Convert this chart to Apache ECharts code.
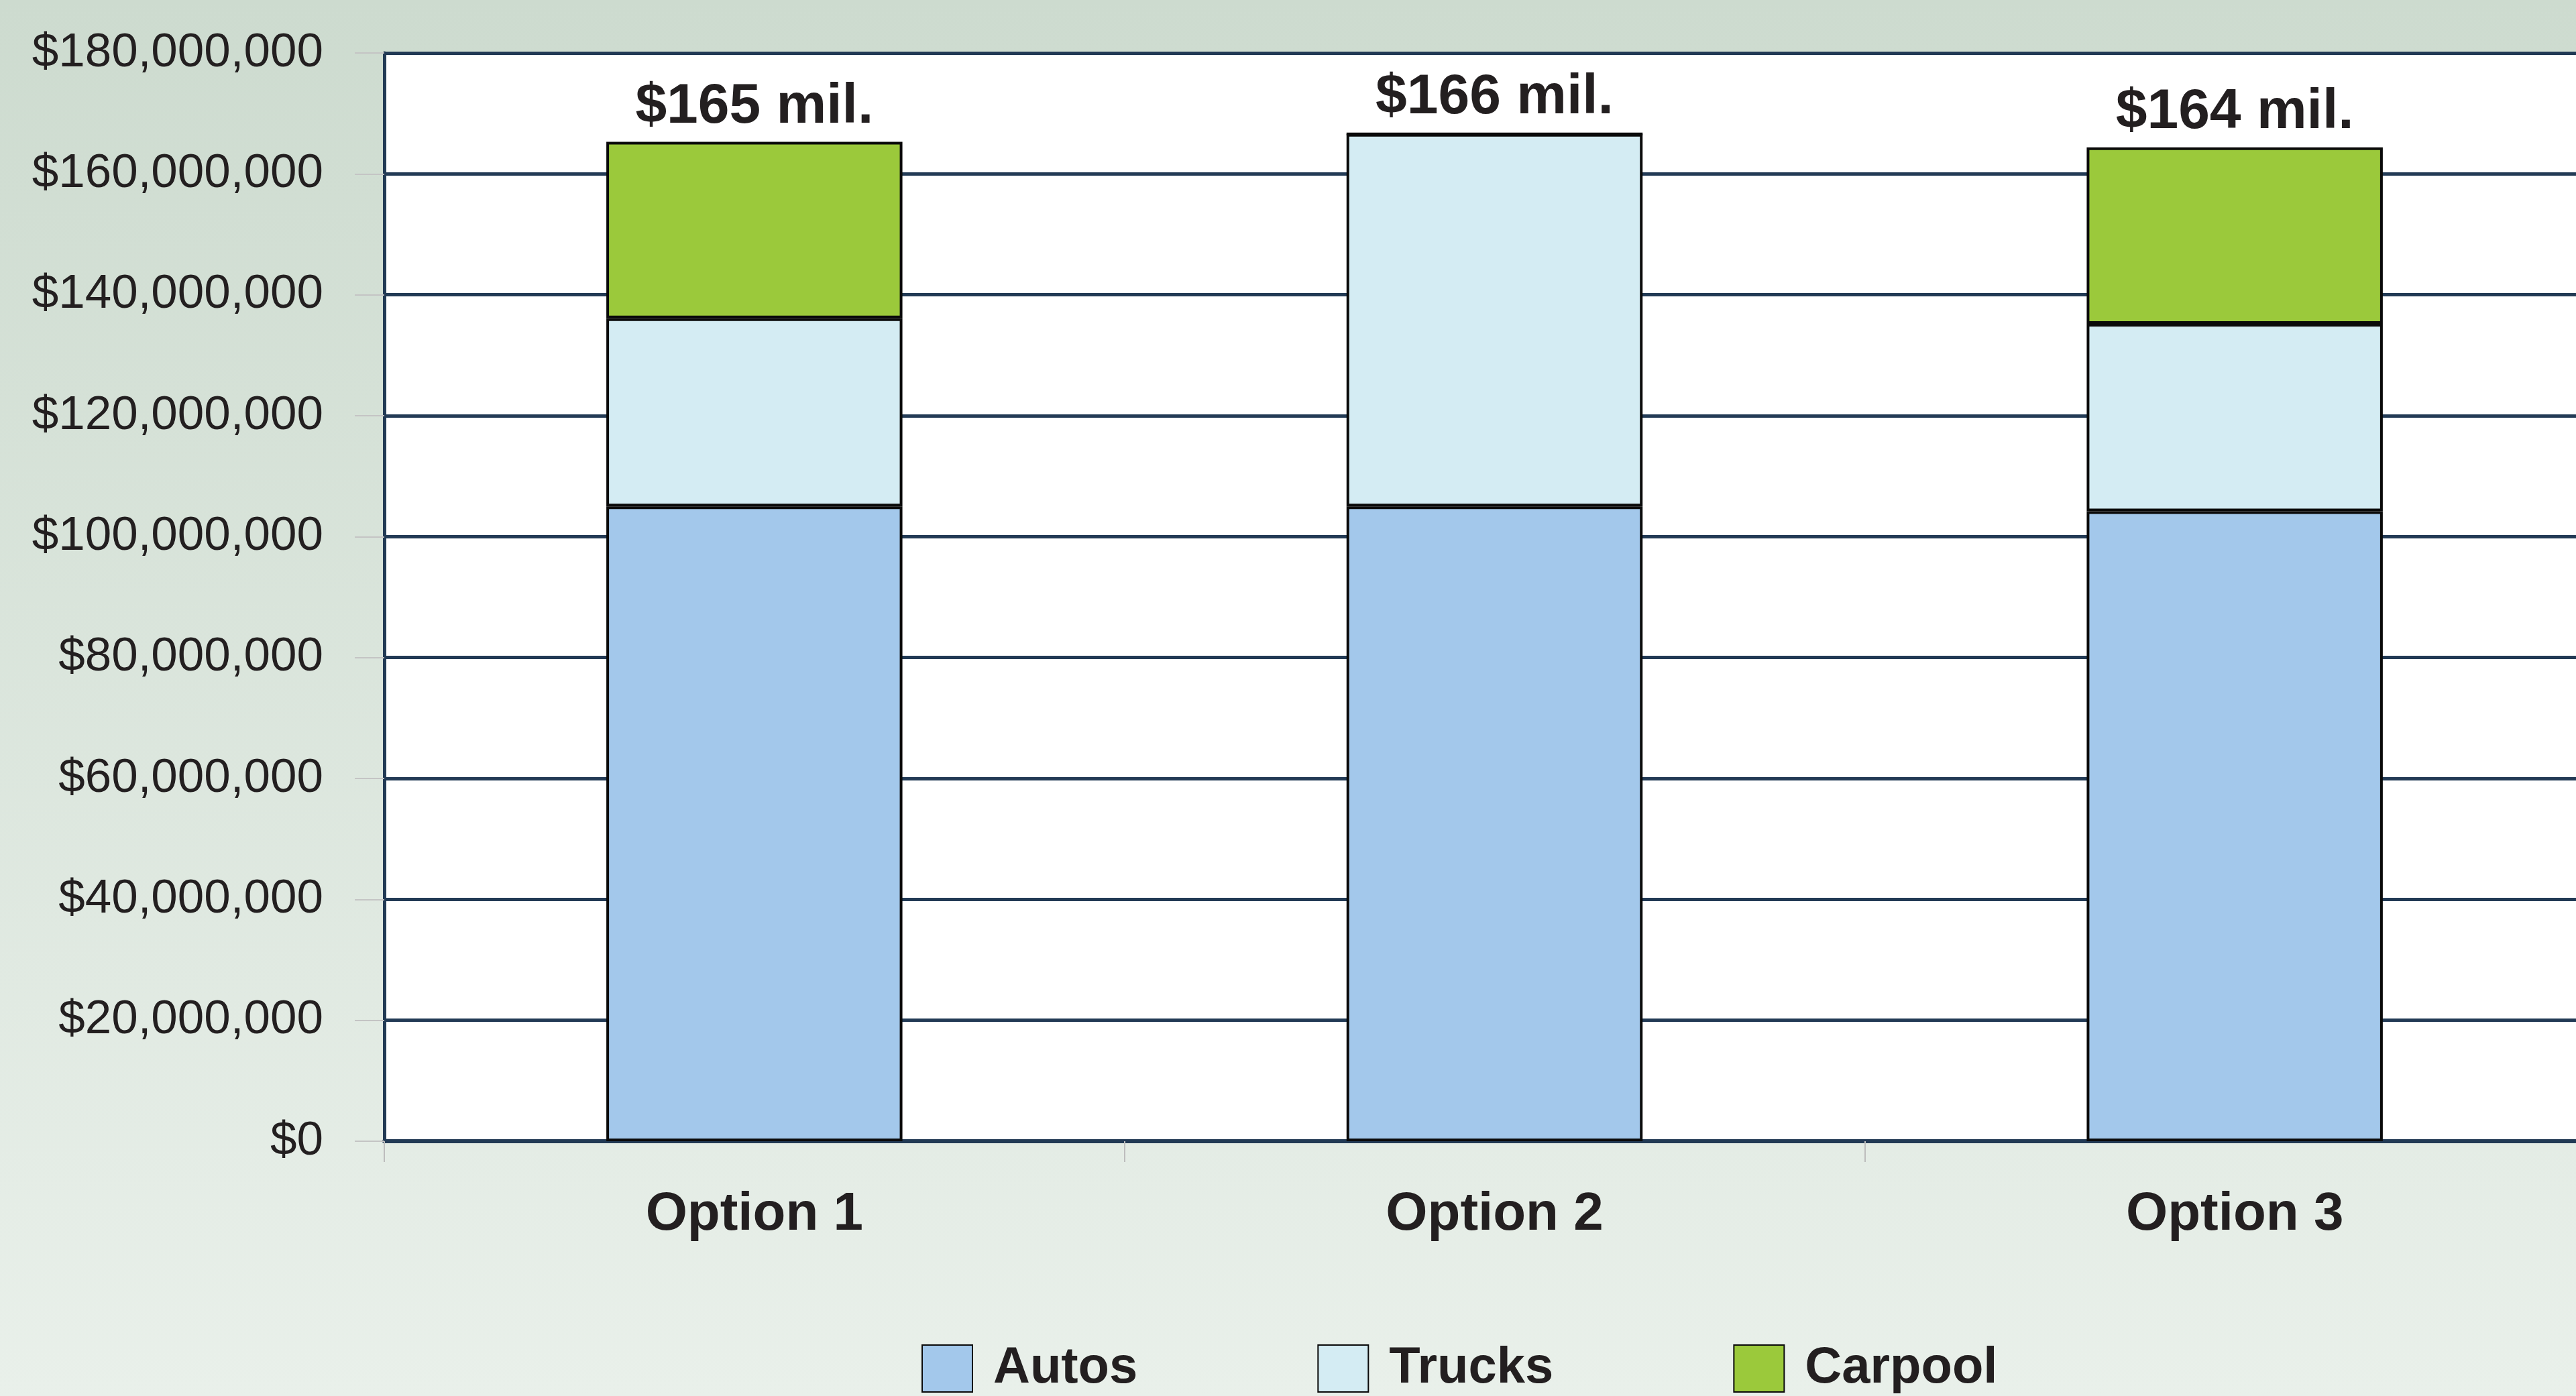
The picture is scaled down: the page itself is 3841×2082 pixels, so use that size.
<!DOCTYPE html>
<html>
<head>
<meta charset="utf-8">
<script src="https://cdn.jsdelivr.net/npm/echarts@6/dist/echarts.min.js"></script>
<style>
html, body { margin: 0; padding: 0; }
#chart { width: 3841px; height: 2082px; }
</style>
</head>
<body>
<div id="chart"></div>
<script>
var categories = ['Option 1', 'Option 2', 'Option 3'];
var autos = [105000000, 105000000, 104200000];
var trucks = [31100000, 61600000, 31000000];
var carpool = [29200000, 0, 29200000];
var totalLabels = ['$165 mil.', '$166 mil.', '$164 mil.'];

var font = '"Liberation Sans Narrow", "Liberation Sans", Arial, sans-serif';
var ink = '#231f20';
var navy = '#223a55';

function money(v) {
    return '$' + String(v).replace(/\B(?=(\d{3})+(?!\d))/g, ',');
}

var myChart = echarts.init(document.getElementById('chart'));

var option = {
    backgroundColor: {
        type: 'linear', x: 0, y: 0, x2: 0, y2: 1,
        colorStops: [
            { offset: 0, color: '#cddbcf' },
            { offset: 1, color: '#e9f0ea' }
        ]
    },
    animation: false,
    grid: {
        left: 573,
        top: 79,
        right: -43,
        bottom: 380,
        outerBoundsMode: 'none',
        containLabel: false,
        show: true,
        backgroundColor: '#ffffff',
        borderWidth: 0
    },
    legend: {
        left: 1369,
        top: 1998,
        itemWidth: 75,
        itemHeight: 70,
        itemGap: 268,
        icon: 'rect',
        textStyle: {
            fontFamily: font,
            fontWeight: 'bold',
            fontSize: 76,
            color: ink,
            padding: [0, 0, 0, 26]
        },
        data: ['Autos', 'Trucks', 'Carpool']
    },
    xAxis: {
        type: 'category',
        data: categories,
        axisLine: { lineStyle: { color: navy, width: 6 } },
        axisTick: { show: true, length: 31, lineStyle: { color: '#bdbdbd', width: 2 } },
        axisLabel: {
            margin: 70,
            fontFamily: font,
            fontWeight: 'bold',
            fontSize: 80,
            color: ink
        }
    },
    yAxis: {
        type: 'value',
        min: 0,
        max: 180000000,
        interval: 20000000,
        axisLine: { show: true, lineStyle: { color: navy, width: 5 } },
        axisTick: { show: true, length: 44, lineStyle: { color: '#c4c4c4', width: 2 } },
        splitLine: { show: true, lineStyle: { color: navy, width: 5 } },
        axisLabel: {
            margin: 91,
            fontFamily: font,
            fontSize: 71,
            color: ink,
            formatter: money
        }
    },
    series: [
        {
            name: 'Autos',
            type: 'bar',
            stack: 'total',
            barWidth: '40%',
            data: autos,
            itemStyle: { color: '#a3c8eb', borderColor: '#0a0a0a', borderWidth: 4 }
        },
        {
            name: 'Trucks',
            type: 'bar',
            stack: 'total',
            data: trucks,
            itemStyle: { color: '#d4ecf3', borderColor: '#0a0a0a', borderWidth: 4 }
        },
        {
            name: 'Carpool',
            type: 'bar',
            stack: 'total',
            data: carpool,
            itemStyle: { color: '#9bc93b', borderColor: '#0a0a0a', borderWidth: 4 },
            label: {
                show: true,
                position: 'top',
                distance: 10,
                fontFamily: font,
                fontWeight: 'bold',
                fontSize: 84,
                color: ink,
                formatter: function (p) { return totalLabels[p.dataIndex]; }
            }
        }
    ]
};

myChart.setOption(option);
</script>
</body>
</html>
